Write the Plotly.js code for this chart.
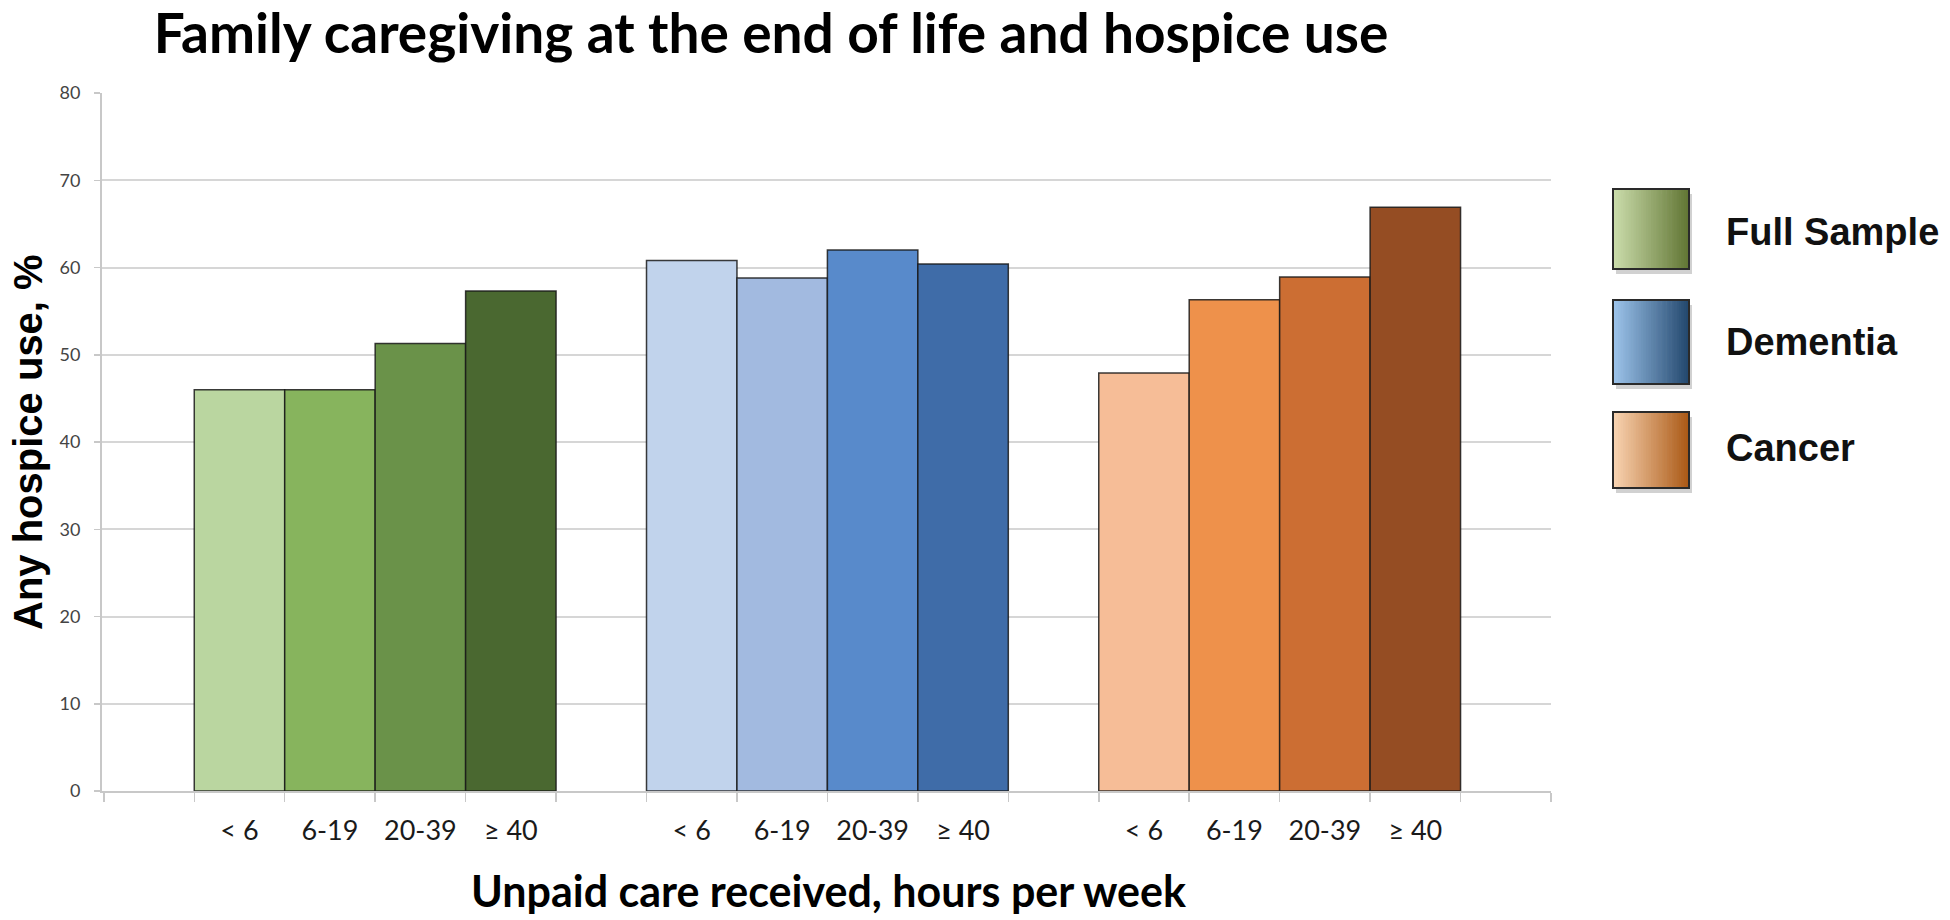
<!DOCTYPE html>
<html>
<head>
<meta charset="utf-8">
<script src="https://cdn.plot.ly/plotly-3.0.1.min.js"></script>
<style>
  body { margin: 0; background: #fff; }
  #chart { width: 1950px; height: 920px; }
</style>
</head>
<body>
<div id="chart"></div>
<script>
// data
const groups = ["Full Sample", "Dementia", "Cancer"]
const hours = ["< 6", "6-19", "20-39", "≥ 40"]
const fullSample = [46.0, 46.0, 51.3, 57.3]
const dementia = [60.8, 58.8, 62.0, 60.4]
const cancer = [47.9, 56.3, 58.9, 66.9]

// colours
const greens = ["#bad6a0", "#87b45d", "#6a9249", "#4a6830"]
const blues = ["#c1d3ec", "#a2bae0", "#588acb", "#3f6ca8"]
const oranges = ["#f6bd97", "#ee914b", "#cc6e33", "#954d23"]
const legendGradients = [["#cadcaa", "#627635"], ["#9cc3ea", "#24496f"], ["#f8d3b1", "#ab5a17"]]

const seriesValues = [fullSample, dementia, cancer]
const seriesColors = [greens, blues, oranges]

// plot area in pixels
const W = 1950, H = 920
const M = {l: 102, r: 399, t: 93, b: 129}
const PW = W - M.l - M.r, PH = H - M.t - M.b
function px(x) { return (x - M.l) / PW }
function py(y) { return (H - M.b - y) / PH }

function hexToRgb(h) {
    return [parseInt(h.slice(1, 3), 16), parseInt(h.slice(3, 5), 16), parseInt(h.slice(5, 7), 16)]
}
function mix(a, b, t) {
    var ca = hexToRgb(a), cb = hexToRgb(b)
    var c = ca.map((v, i) => Math.round(v + (cb[i] - v) * t))
    return "rgb(" + c.join(",") + ")"
}

var data = []
var centers = []
var labels = []
var edges = []

groups.forEach(function(name, g) {
    var xs = seriesValues[g].map((v, i) => g * 5 + i)
    xs.forEach(function(x, i) {
        centers.push(x)
        labels.push(hours[i])
        edges.push(x - 0.5)
    })
    edges.push(xs[xs.length - 1] + 0.5)

    data.push({
        type: "bar",
        name: name,
        x: xs,
        y: seriesValues[g],
        width: 1,
        marker: {
            color: seriesColors[g],
            line: {color: "rgba(25,25,25,0.85)", width: 1.5}
        },
        showlegend: false,
        hoverinfo: "x+y"
    })
})
edges.push(-1.5)
edges.push(14.5)

// hand-drawn legend: gradient boxes + labels
var shapes = []
var annotations = []
var boxes = [[189, 269], [300, 384], [412, 488]]
var labelY = [232, 342, 448]
var boxX0 = 1613, boxX1 = 1689, strips = 30

groups.forEach(function(name, g) {
    var y0 = boxes[g][0], y1 = boxes[g][1]
    shapes.push({
        type: "rect", xref: "paper", yref: "paper",
        x0: px(boxX0 + 3), x1: px(boxX1 + 3), y0: py(y1 + 5), y1: py(y0 + 5),
        fillcolor: "rgba(0,0,0,0.18)", line: {width: 0}, layer: "above"
    })
    for (var s = 0; s < strips; s++) {
        var sx0 = boxX0 + (boxX1 - boxX0) * s / strips
        var sx1 = boxX0 + (boxX1 - boxX0) * (s + 1) / strips + 0.6
        shapes.push({
            type: "rect", xref: "paper", yref: "paper",
            x0: px(sx0), x1: px(sx1), y0: py(y1), y1: py(y0),
            fillcolor: mix(legendGradients[g][0], legendGradients[g][1], s / (strips - 1)),
            line: {width: 0}, layer: "above"
        })
    }
    shapes.push({
        type: "rect", xref: "paper", yref: "paper",
        x0: px(boxX0), x1: px(boxX1), y0: py(y1), y1: py(y0),
        line: {color: "#2a2a2a", width: 2}, layer: "above"
    })
    annotations.push({
        text: name, xref: "paper", yref: "paper",
        x: px(1724), y: py(labelY[g]), xanchor: "left", yanchor: "middle",
        showarrow: false,
        font: {family: "Liberation Sans, Arial, sans-serif", size: 38, color: "#111", weight: "bold"}
    })
})

// axis titles
annotations.push({
    text: "Any hospice use, %", xref: "paper", yref: "paper",
    x: px(28), y: py(442), xanchor: "center", yanchor: "middle", textangle: -90,
    showarrow: false,
    font: {family: "Liberation Sans, Arial, sans-serif", size: 40, color: "#000", weight: "bold"}
})
annotations.push({
    text: "Unpaid care received, hours per week", xref: "paper", yref: "paper",
    x: px(828), y: py(890), xanchor: "center", yanchor: "middle",
    showarrow: false,
    font: {family: "Lato, sans-serif", size: 43, color: "#000", weight: "bold"}
})

var layout = {
    width: W,
    height: H,
    margin: M,
    paper_bgcolor: "#fff",
    plot_bgcolor: "#fff",
    bargap: 0,
    title: {
        text: "Family caregiving at the end of life and hospice use",
        font: {family: "Lato, sans-serif", size: 55, color: "#000", weight: "bold"},
        x: 771 / W, xref: "container", xanchor: "center",
        y: 1 - 34 / H, yref: "container", yanchor: "middle"
    },
    xaxis: {
        range: [-1.52, 14.5],
        tickmode: "array",
        tickvals: centers,
        ticktext: labels,
        ticks: "",
        ticklabelstandoff: 15,
        tickfont: {family: "Lato, sans-serif", size: 27, color: "#1a1a1a"},
        minor: {
            tickmode: "array",
            tickvals: edges,
            ticks: "outside",
            ticklen: 9,
            tickwidth: 1.5,
            tickcolor: "#c8c8c8",
            showgrid: false
        },
        showline: true,
        linecolor: "#c8c8c8",
        linewidth: 2,
        showgrid: false,
        zeroline: false,
        fixedrange: true
    },
    yaxis: {
        range: [0, 80],
        tickmode: "linear",
        tick0: 0,
        dtick: 10,
        ticks: "outside",
        ticklen: 6,
        tickwidth: 1.5,
        tickcolor: "#c8c8c8",
        ticklabelstandoff: 10,
        tickfont: {family: "Lato, sans-serif", size: 18, color: "#444"},
        showline: true,
        linecolor: "#c8c8c8",
        linewidth: 2,
        showgrid: true,
        gridcolor: "#d6d6d6",
        gridwidth: 2,
        zeroline: false,
        fixedrange: true
    },
    showlegend: false,
    shapes: shapes,
    annotations: annotations
}

Plotly.newPlot("chart", data, layout, {displayModeBar: false, staticPlot: true})
</script>
</body>
</html>
